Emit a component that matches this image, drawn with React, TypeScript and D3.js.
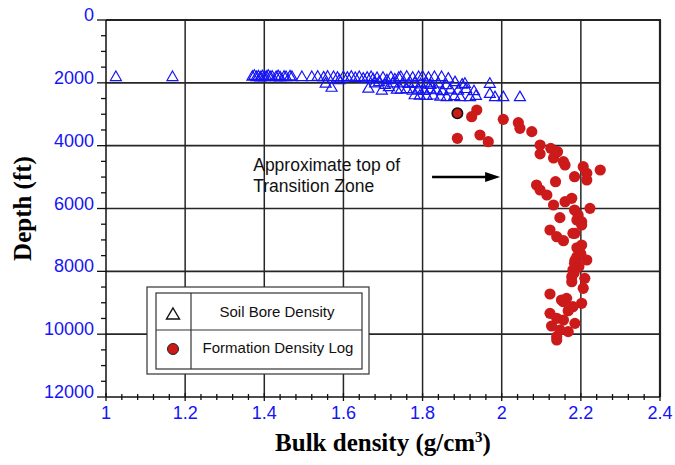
import React from "react";
import * as d3 from "d3";

// Axis ticks
const xTicks = [1, 1.2, 1.4, 1.6, 1.8, 2, 2.2, 2.4];
const yTicks = [0, 2000, 4000, 6000, 8000, 10000, 12000];

// Soil bore density samples: [bulk density g/cm3, depth ft]
const soilBore: [number, number][] = [
  [1.025, 1800], [1.168, 1800],
  [1.37, 1790], [1.375, 1760], [1.38, 1800], [1.385, 1780], [1.39, 1810], [1.395, 1770],
  [1.4, 1800], [1.405, 1790], [1.41, 1760], [1.415, 1800], [1.42, 1790], [1.43, 1800],
  [1.435, 1770], [1.44, 1810], [1.45, 1790], [1.455, 1800], [1.465, 1780], [1.47, 1800],
  [1.495, 1800], [1.52, 1800], [1.535, 1790], [1.55, 1810], [1.555, 2010], [1.56, 1790],
  [1.57, 2140], [1.575, 1800], [1.585, 1820], [1.59, 1900], [1.6, 1800],
  [1.61, 1820], [1.62, 1790], [1.63, 1830], [1.64, 1800], [1.65, 1850], [1.66, 1820],
  [1.663, 2170], [1.67, 1800], [1.675, 1870], [1.68, 2000], [1.685, 1830], [1.69, 1960],
  [1.697, 2230], [1.7, 1820], [1.705, 2050], [1.71, 1900], [1.715, 2120], [1.72, 1810],
  [1.725, 2000], [1.73, 1880], [1.735, 2200], [1.74, 1820],
  [1.745, 1800], [1.76, 1790], [1.775, 1820], [1.79, 1800], [1.8, 1790], [1.815, 1820],
  [1.83, 1800], [1.848, 1800], [1.865, 1850],
  [1.75, 2000], [1.765, 2020], [1.78, 1990], [1.795, 2030], [1.81, 2000], [1.82, 2050],
  [1.84, 2010], [1.86, 2060], [1.882, 1960], [1.9, 2040], [1.907, 2015],
  [1.745, 2200], [1.76, 2180], [1.775, 2230], [1.79, 2200], [1.805, 2240], [1.82, 2190],
  [1.835, 2220], [1.85, 2250], [1.87, 2200], [1.89, 2230], [1.91, 2180], [1.93, 2250],
  [1.78, 2380], [1.793, 2390], [1.81, 2400], [1.827, 2387], [1.845, 2420], [1.861, 2440],
  [1.88, 2410], [1.895, 2440], [1.92, 2440], [1.935, 2400],
  [1.97, 2015], [1.97, 2334], [1.983, 2440], [2.004, 2440], [2.046, 2440]
];

// Formation density log samples: [bulk density g/cm3, depth ft]
const formationLog: [number, number][] = [
  [1.937, 2865], [1.924, 3077], [1.888, 3766], [1.945, 3660], [1.966, 3873],
  [2.004, 3162], [2.042, 3268], [2.046, 3448], [2.076, 3554], [2.097, 3979],
  [2.097, 4260], [2.124, 4085], [2.141, 4191], [2.131, 4390], [2.156, 4510],
  [2.16, 4615], [2.206, 4669], [2.215, 4880], [2.215, 5093], [2.249, 4775],
  [2.184, 4987], [2.136, 5146], [2.088, 5252], [2.097, 5411], [2.114, 5570],
  [2.131, 5889], [2.16, 5783], [2.177, 5676], [2.223, 5995], [2.184, 6048],
  [2.193, 6207], [2.147, 6291], [2.19, 6366], [2.202, 6419], [2.202, 6525],
  [2.18, 6790], [2.122, 6685], [2.139, 6897], [2.156, 7024], [2.185, 6790],
  [2.202, 7162], [2.19, 7250], [2.197, 7375], [2.2, 7450], [2.19, 7534],
  [2.215, 7640], [2.185, 7650], [2.184, 7746], [2.195, 7850], [2.18, 7958],
  [2.183, 8050], [2.177, 8170], [2.21, 8223], [2.177, 8330], [2.206, 8541],
  [2.122, 8722], [2.164, 8860], [2.151, 8912], [2.156, 8966], [2.202, 9018],
  [2.18, 9125], [2.168, 9252], [2.122, 9337], [2.139, 9496], [2.156, 9550],
  [2.185, 9656], [2.126, 9740], [2.147, 9868], [2.168, 9920], [2.139, 10080],
  [2.139, 10186]
];

// Highlighted log sample (outlined)
const highlighted: [number, number] = [1.888, 2970];

const BLUE = "#1414f5";
const RED = "#cc1a1a";
const GRID = "#262626";

const x = d3.scaleLinear().domain([1, 2.4]).range([106, 660]);
const y = d3.scaleLinear().domain([0, 12000]).range([20, 397]);

const xMinor = d3.range(1, 2.4001, 0.04).map((v) => +v.toFixed(2));
const yMinor = d3.range(0, 12001, 500);

const triPath = "M0,-5.5 L5.5,4 L-5.5,4 Z";

export default function App() {
  const [x0, x1] = x.range();
  const [y0, y1] = y.range();
  const sans = "Arial, 'Liberation Sans', sans-serif";
  const serif = "'Times New Roman', 'Liberation Serif', serif";

  return (
    <svg
      width={675}
      height={465}
      style={{ position: "absolute", left: 0, top: 0, background: "#fff" }}
    >
      <rect width={675} height={465} fill="#fff" />

      {/* grid */}
      {xTicks.slice(1, -1).map((t) => (
        <line key={"gx" + t} x1={x(t)} x2={x(t)} y1={y0} y2={y1} stroke={GRID} strokeWidth={1.5} />
      ))}
      {yTicks.slice(1, -1).map((t) => (
        <line key={"gy" + t} x1={x0} x2={x1} y1={y(t)} y2={y(t)} stroke={GRID} strokeWidth={1.6} />
      ))}

      {/* frame */}
      <line x1={x0} x2={x1 + 1} y1={y0} y2={y0} stroke="#222" strokeWidth={2.2} />
      <line x1={x1} x2={x1} y1={y0} y2={y1} stroke="#222" strokeWidth={2.2} />
      <line x1={x0} x2={x0} y1={y0} y2={y1} stroke="#111" strokeWidth={1.5} />
      <line x1={x0} x2={x1} y1={y1} y2={y1} stroke="#111" strokeWidth={1.5} />

      {/* left axis ticks */}
      {yMinor.map((t) => {
        const major = t % 2000 === 0;
        return (
          <line key={"ty" + t} x1={x0 - (major ? 9 : 5)} x2={x0} y1={y(t)} y2={y(t)} stroke="#111" strokeWidth={1.3} />
        );
      })}
      {yTicks.map((t) => (
        <text key={"ly" + t} x={94} y={y(t) + 1} textAnchor="end" fontFamily={sans} fontSize={18} fill={BLUE}>
          {t}
        </text>
      ))}

      {/* bottom axis ticks */}
      {xMinor.map((t, i) => {
        const major = i % 5 === 0;
        return (
          <line key={"tx" + i} x1={x(t)} x2={x(t)} y1={y1 - (major ? 4 : 3)} y2={y1 + (major ? 4 : 3)} stroke="#111" strokeWidth={1.3} />
        );
      })}
      {xTicks.map((t) => (
        <text key={"lx" + t} x={x(t)} y={419} textAnchor="middle" fontFamily={sans} fontSize={18} fill={BLUE}>
          {t}
        </text>
      ))}

      {/* soil bore density */}
      {soilBore.map(([d, z], i) => (
        <path key={"s" + i} d={triPath} transform={`translate(${x(d)},${y(z)})`} fill="none" stroke={BLUE} strokeWidth={1.2} />
      ))}

      {/* formation density log */}
      {formationLog.map(([d, z], i) => (
        <circle key={"f" + i} cx={x(d)} cy={y(z)} r={5.6} fill={RED} />
      ))}
      <circle cx={x(highlighted[0])} cy={y(highlighted[1])} r={5.2} fill={RED} stroke="#111" strokeWidth={1.6} />

      {/* annotation */}
      <text x={x(1.372)} y={y(4800)} fontFamily={sans} fontSize={17.5} fill="#111">
        Approximate top of
      </text>
      <text x={x(1.372)} y={y(5470)} fontFamily={sans} fontSize={17.5} fill="#111">
        Transition Zone
      </text>
      <line x1={x(1.824)} x2={x(1.96)} y1={y(5000)} y2={y(5000)} stroke="#000" strokeWidth={2.5} />
      <path
        d={`M${x(1.996)},${y(5000)} L${x(1.996) - 15},${y(5000) - 5} L${x(1.996) - 15},${y(5000) + 5} Z`}
        fill="#000"
      />

      {/* legend */}
      <g>
        <rect x={147} y={287} width={222} height={87} fill="#fff" stroke="#333" strokeWidth={1.2} />
        <rect x={156} y={293} width={206} height={76} fill="#fff" stroke="#333" strokeWidth={1.2} />
        <line x1={191} x2={191} y1={293} y2={369} stroke="#333" strokeWidth={1.2} />
        <line x1={156} x2={362} y1={330} y2={330} stroke="#333" strokeWidth={1.2} />
        <path d="M0,-6 L6.5,5 L-6.5,5 Z" transform="translate(173,314)" fill="none" stroke="#111" strokeWidth={1.4} />
        <circle cx={173} cy={349} r={5.5} fill={RED} stroke="#222" strokeWidth={1} />
        <text x={277} y={317} textAnchor="middle" fontFamily={sans} fontSize={15} fill="#111">
          Soil Bore Density
        </text>
        <text x={278} y={353} textAnchor="middle" fontFamily={sans} fontSize={15} fill="#111">
          Formation Density Log
        </text>
      </g>

      {/* axis titles */}
      <text x={383} y={451} textAnchor="middle" fontFamily={serif} fontWeight="bold" fontSize={25} fill="#000">
        Bulk density (g/cm
        <tspan fontSize={15} dy={-9}>3</tspan>
        <tspan dy={9}>)</tspan>
      </text>
      <text
        transform={`translate(31,${(y0 + y1) / 2}) rotate(-90)`}
        textAnchor="middle"
        fontFamily={serif}
        fontWeight="bold"
        fontSize={25}
        fill="#000"
      >
        Depth (ft)
      </text>
    </svg>
  );
}
